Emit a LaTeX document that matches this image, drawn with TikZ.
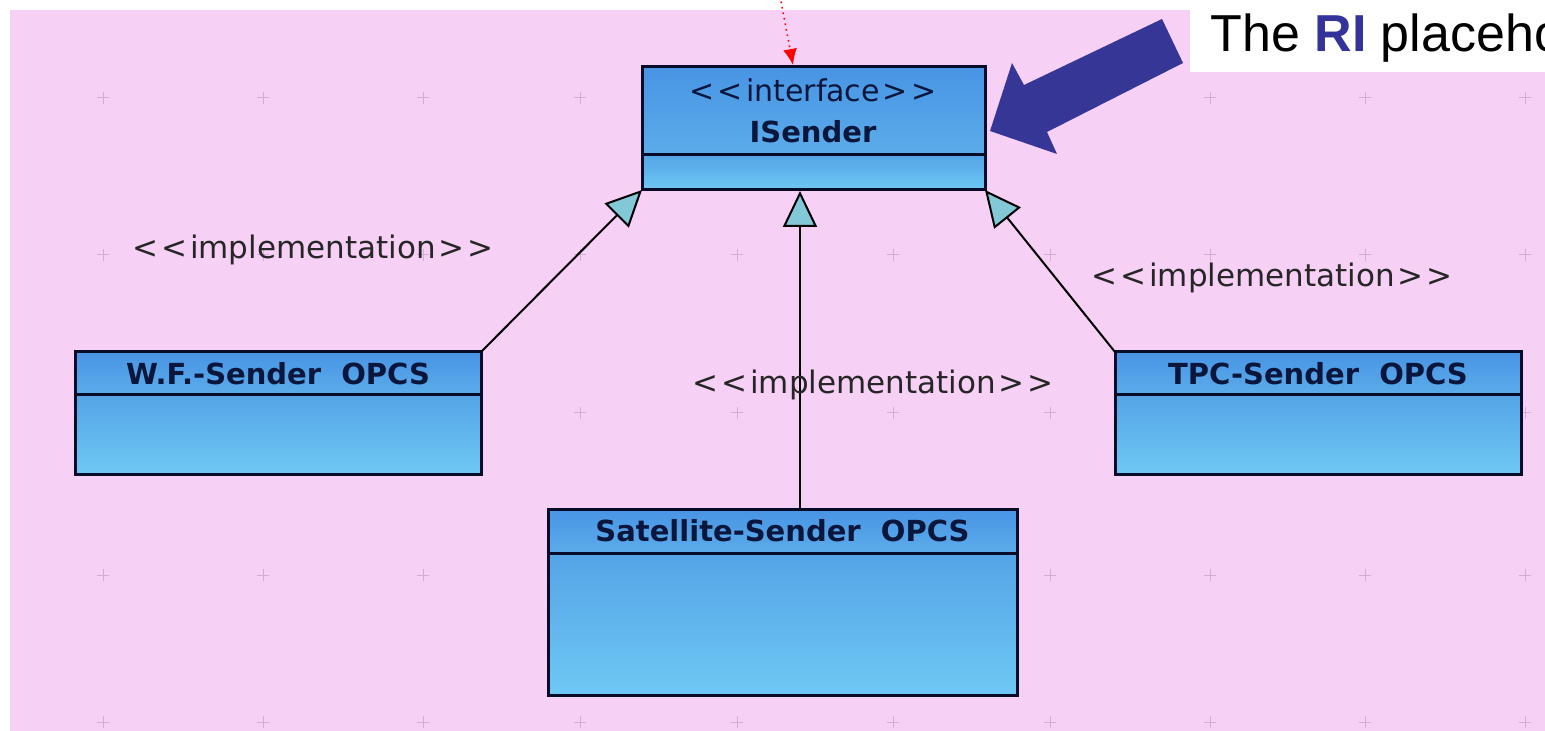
\documentclass[tikz,border=0pt]{standalone}
\usepackage{fontspec}
\setmainfont{DejaVu Sans}[Ligatures=NoCommon]
\newfontfamily\umlfont{DejaVu Sans}[Mapping={}]
\newfontfamily\arialfont{Liberation Sans}
\usetikzlibrary{arrows.meta,fit}
\definecolor{pinkbg}{RGB}{247,208,245}
\definecolor{gridc}{RGB}{210,175,210}
\definecolor{titletop}{RGB}{72,148,228}
\definecolor{titlebot}{RGB}{92,172,234}
\definecolor{bodytop}{RGB}{84,164,230}
\definecolor{bodybot}{RGB}{110,200,244}
\definecolor{boxline}{RGB}{8,12,40}
\definecolor{umltext}{RGB}{10,22,60}
\definecolor{tipfill}{RGB}{130,200,215}
\definecolor{bigarrow}{RGB}{54,54,150}
\definecolor{ritext}{RGB}{51,51,153}
\newcommand{\lt}{\char"003C\kern1.5pt}
\newcommand{\gt}{\kern1.5pt\char"003E}
\tikzset{
  comp/.style={inner sep=0pt, outer sep=0pt, draw=boxline, line width=1.5pt},
  titlecomp/.style={comp, top color=titletop, bottom color=titlebot},
  bodycomp/.style={comp, top color=bodytop, bottom color=bodybot},
  titletext/.style={text=umltext, font=\umlfont\fontsize{14.5pt}{16pt}\selectfont\bfseries, inner sep=0pt},
  stereotext/.style={text=umltext, font=\umlfont\fontsize{15pt}{18pt}\selectfont, inner sep=0pt},
  impltext/.style={text=black!85, font=\umlfont\fontsize{15.5pt}{18pt}\selectfont, inner sep=0pt},
  realize/.style={draw=black, line width=1pt, -{Triangle[length=18pt,width=17pt,fill=tipfill,line width=1pt]}},
  gridmark/.style={draw=gridc, line width=0.5pt},
}
\begin{document}
\begin{tikzpicture}[x=0.5pt,y=-0.5pt]
\useasboundingbox (0,0) rectangle (1545,731);
\clip (0,0) rectangle (1545,731);
\fill[white] (0,0) rectangle (1545,731);
\fill[pinkbg] (10,10) rectangle (1545,731);
% grid
\foreach \gx in {103,263,423,580,737,893,1050,1210,1365,1525}{
  \foreach \gy in {98,255,413,575,722}{
    \draw[gridmark] (\gx-6,\gy) -- (\gx+6,\gy) (\gx,\gy-6) -- (\gx,\gy+6);
  }
}
% ISender
\node[titlecomp, fit={(642,67)(985,155)}] (isT) {};
\node[bodycomp, fit={(642,155)(985,190)}] (isB) {};
\node[stereotext] (isStereo) at (813,90) {\lt\lt interface\gt\gt};
\node[titletext] (isName) at (813,132) {ISender};
% W.F.
\node[titlecomp, fit={(75,352)(481,395)}] (wfT) {};
\node[bodycomp, fit={(75,395)(481,474)}] (wfB) {};
\node[titletext] (wfName) at (wfT.center) {W.F.-Sender\ \ OPCS};
% TPC
\node[titlecomp, fit={(1115,352)(1521,395)}] (tpcT) {};
\node[bodycomp, fit={(1115,395)(1521,474)}] (tpcB) {};
\node[titletext] (tpcName) at (tpcT.center) {TPC-Sender\ \ OPCS};
% Satellite
\node[titlecomp, fit={(548,509)(1017,553)}] (satT) {};
\node[bodycomp, fit={(548,553)(1017,695)}] (satB) {};
\node[titletext] (satName) at (satT.center) {Satellite-Sender\ \ OPCS};
% connectors
\coordinate (midtop) at (800,191);
\draw[realize] (wfT.north east) -- (isB.south west);
\draw[realize] (tpcT.north west) -- (isB.south east);
\draw[realize] (satT.north -| midtop) -- (midtop);
% labels
\node[impltext] (lblL) at (313,250) {\lt\lt implementation\gt\gt};
\node[impltext] (lblR) at (1272,278) {\lt\lt implementation\gt\gt};
\node[impltext] (lblM) at (873,385) {\lt\lt implementation\gt\gt};
% red dotted pointer
\coordinate (redstart) at (780,-4);
\coordinate (redend) at (793,65);
\draw[red, dotted, line width=0.8pt, -{Latex[length=8pt,width=7pt]}] (redstart) -- (redend);
% big blue arrow
\fill[bigarrow] (990,131) -- (1012,63) -- (1024,85) -- (1162,19) -- (1183,63) -- (1047,132) -- (1057,154) -- cycle;
% white callout
\fill[white] (1190,0) rectangle (1545,72);
\node[anchor=base west, inner sep=0pt, font=\arialfont\fontsize{26pt}{30pt}\selectfont] (callout) at (1210,52) {The \textcolor{ritext}{\textbf{RI}} placeho};
\end{tikzpicture}
\end{document}
